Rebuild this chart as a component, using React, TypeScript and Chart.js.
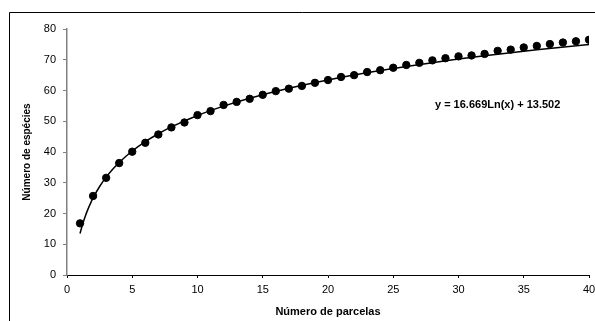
import React, { useEffect, useRef } from "react";
import { Chart, registerables } from "chart.js";

Chart.register(...registerables);

const parcelas = [
  1, 2, 3, 4, 5, 6, 7, 8, 9, 10, 11, 12, 13, 14, 15, 16, 17, 18, 19, 20,
  21, 22, 23, 24, 25, 26, 27, 28, 29, 30, 31, 32, 33, 34, 35, 36, 37, 38, 39, 40,
];
const especies = [
  16.8, 25.7, 31.6, 36.4, 40.1, 43.0, 45.7, 48.0, 49.6, 52.0,
  53.3, 55.3, 56.3, 57.3, 58.6, 59.8, 60.6, 61.5, 62.5, 63.4,
  64.4, 65.0, 66.0, 66.6, 67.4, 68.3, 69.0, 69.8, 70.5, 71.1,
  71.4, 71.9, 72.9, 73.3, 74.0, 74.5, 75.1, 75.6, 76.0, 76.5,
];
// Trendline shown in the chart: y = 16.669 Ln(x) + 13.502
const TREND_A = 16.669;
const TREND_B = 13.502;
const trendX = [1, 1.2, 1.4, 1.6, 1.8, 2, 2.5, 3, 3.5, 4, 5, 6, 7, 8, 10, 12, 14, 17, 20, 24, 28, 32, 36, 40];
const equationLabel = "y = 16.669Ln(x) + 13.502";
const equationPos = { x: 33.0, y: 55.3 };

const xTitle = "Número de parcelas";
const yTitle = "Número de espécies";
const FONT = "'Liberation Sans', Arial, sans-serif";

export default function App() {
  const ref = useRef<HTMLCanvasElement>(null);
  useEffect(() => {
    if (!ref.current) return;
    const borderPlugin = {
      id: "outerBorder",
      afterDraw(chart: any) {
        const ctx = chart.ctx;
        ctx.save();
        ctx.strokeStyle = "#000";
        ctx.lineWidth = 1;
        ctx.beginPath();
        ctx.moveTo(9.5, 321);
        ctx.lineTo(9.5, 12.5);
        ctx.lineTo(595, 12.5);
        ctx.stroke();
        const xs = chart.scales.x;
        const ys = chart.scales.y;
        ctx.fillStyle = "#000";
        ctx.font = `bold 11px ${FONT}`;
        ctx.textAlign = "center";
        ctx.textBaseline = "middle";
        ctx.fillText(equationLabel, xs.getPixelForValue(equationPos.x), ys.getPixelForValue(equationPos.y));
        ctx.restore();
      },
    };
    const chart = new Chart(ref.current, {
      type: "scatter",
      data: {
        datasets: [
          {
            label: "dados",
            data: parcelas.map((p, i) => ({ x: p, y: especies[i] })),
            backgroundColor: "#000",
            borderColor: "#000",
            pointRadius: 3.7,
            pointHoverRadius: 3.7,
            showLine: false,
          },
          {
            label: "trend",
            data: trendX.map((x) => ({ x, y: TREND_A * Math.log(x) + TREND_B })),
            borderColor: "#000",
            borderWidth: 1.5,
            pointRadius: 0,
            showLine: true,
            cubicInterpolationMode: "monotone",
          } as any,
        ],
      },
      options: {
        responsive: false,
        animation: false,
        events: [],
        layout: { padding: { left: 0, right: 0, top: 29, bottom: 0 } },
        plugins: { legend: { display: false }, tooltip: { enabled: false } },
        scales: {
          x: {
            type: "linear",
            min: 0,
            max: 40,
            afterFit: (s: any) => {
              s.height = 46;
              s.paddingRight = 6;
              s.paddingLeft = 0;
            },
            ticks: { stepSize: 5, color: "#000", padding: 5, font: { family: FONT, size: 11 } },
            grid: { drawOnChartArea: false, drawTicks: true, tickLength: 3, color: "#000" },
            border: { display: true, color: "#000", width: 1 },
            title: {
              display: true,
              text: xTitle,
              color: "#000",
              font: { family: FONT, size: 11, weight: "bold" },
              padding: { top: 0, bottom: 2 },
            },
          },
          y: {
            type: "linear",
            min: 0,
            max: 80,
            afterFit: (s: any) => {
              s.width = 67;
            },
            ticks: { stepSize: 10, color: "#000", padding: 7, font: { family: FONT, size: 11 } },
            grid: { drawOnChartArea: false, drawTicks: true, tickLength: 4, color: "#808080" },
            border: { display: true, color: "#808080", width: 1.5 },
            title: {
              display: true,
              text: yTitle,
              color: "#000",
              font: { family: FONT, size: 10, weight: "bold" },
              padding: { top: 21, bottom: 0 },
            },
          },
        },
      },
      plugins: [borderPlugin],
    });
    return () => chart.destroy();
  }, []);
  return (
    <div style={{ position: "fixed", left: 0, top: 0, width: 595, height: 321, background: "#fff" }}>
      <canvas ref={ref} width={595} height={321} style={{ display: "block" }} />
    </div>
  );
}
